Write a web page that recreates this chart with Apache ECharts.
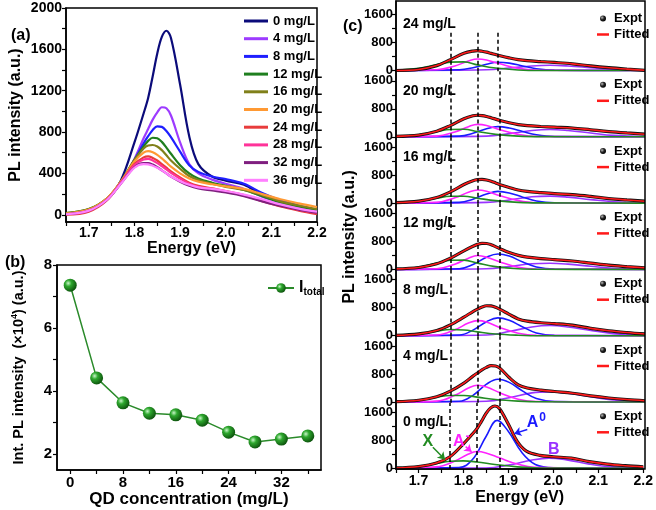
<!DOCTYPE html>
<html>
<head>
<meta charset="UTF-8">
<script src="https://cdn.jsdelivr.net/npm/echarts@6/dist/echarts.min.js"></script>
<style>
  html, body { margin: 0; padding: 0; background: #fff; }
  #chart { width: 656px; height: 510px; }
</style>
</head>
<body>
<div id="chart"></div>
<script>
// ---- panel (a): PL spectra, one array per QD concentration ----
var energy = [1.65, 1.70, 1.74, 1.77, 1.80, 1.82, 1.83, 1.84, 1.85, 1.86, 1.87, 1.88, 1.90, 1.92, 1.94, 1.97, 2.00, 2.04, 2.08, 2.12, 2.16, 2.20];
var concNames = ['0 mg/L', '4 mg/L', '8 mg/L', '12 mg/L', '16 mg/L', '20 mg/L', '24 mg/L', '28 mg/L', '32 mg/L', '36 mg/L'];
var pl0  = [10, 50, 150, 330, 700, 980, 1130, 1340, 1560, 1720, 1780, 1710, 1260, 760, 490, 370, 330, 290, 190, 120, 75, 40];
var pl4  = [10, 50, 150, 310, 540, 740, 830, 920, 990, 1040, 1030, 960, 700, 490, 400, 340, 300, 250, 175, 115, 70, 35];
var pl8  = [10, 50, 150, 310, 530, 690, 760, 820, 855, 850, 810, 750, 610, 480, 415, 370, 345, 300, 210, 140, 90, 50];
var pl12 = [15, 55, 160, 320, 530, 660, 715, 745, 740, 705, 650, 590, 480, 400, 350, 310, 280, 240, 180, 120, 80, 45];
var pl16 = [15, 55, 160, 320, 530, 640, 670, 675, 660, 625, 575, 525, 445, 375, 335, 300, 270, 240, 190, 130, 90, 55];
var pl20 = [12, 50, 160, 320, 515, 600, 615, 605, 580, 545, 505, 465, 400, 350, 320, 295, 275, 250, 200, 150, 110, 75];
var pl24 = [0, 30, 140, 310, 490, 555, 565, 550, 525, 490, 455, 420, 360, 310, 280, 255, 230, 190, 130, 80, 40, 5];
var pl28 = [5, 40, 150, 310, 480, 535, 540, 525, 500, 470, 440, 405, 350, 300, 270, 250, 225, 185, 135, 90, 50, 20];
var pl32 = [5, 40, 145, 300, 460, 500, 500, 485, 460, 430, 400, 370, 320, 280, 255, 235, 215, 180, 130, 85, 50, 20];
var pl36 = [5, 40, 145, 300, 455, 490, 488, 475, 455, 430, 400, 370, 325, 290, 265, 250, 230, 195, 150, 100, 60, 30];

// ---- panel (b): integrated intensity ----
var qdConc   = [0, 4, 8, 12, 16, 20, 24, 28, 32, 36];
var intTotal = [7.36, 4.42, 3.63, 3.30, 3.25, 3.08, 2.70, 2.39, 2.48, 2.58];

// ---- panel (c): fitted peaks (X, A-, A0, B) for each concentration ----
var gridX  = [1.65, 1.70, 1.74, 1.77, 1.80, 1.83, 1.87, 1.92, 1.97, 2.20];
var gridAm = [1.65, 1.74, 1.78, 1.81, 1.83, 1.85, 1.88, 1.92, 1.96, 2.20];
var gridA0 = [1.65, 1.79, 1.82, 1.85, 1.875, 1.90, 1.93, 1.96, 2.00, 2.20];
var gridB  = [1.65, 1.85, 1.90, 1.95, 1.99, 2.03, 2.08, 2.13, 2.20];

var peakX_24 = [5, 60, 170, 240, 245, 160, 70, 15, 0, 0];
var peakX_20 = [5, 55, 150, 210, 215, 150, 70, 20, 5, 0];
var peakX_16 = [5, 50, 140, 195, 195, 140, 70, 20, 5, 0];
var peakX_12 = [5, 60, 180, 260, 265, 180, 80, 20, 5, 0];
var peakX_8  = [5, 50, 130, 175, 165, 110, 50, 15, 0, 0];
var peakX_4  = [5, 50, 140, 185, 185, 140, 70, 25, 5, 0];
var peakX_0  = [5, 50, 140, 200, 212, 180, 110, 40, 10, 0];

var peakAm_24 = [0, 20, 130, 270, 330, 300, 190, 60, 10, 0];
var peakAm_20 = [0, 20, 140, 290, 355, 325, 200, 70, 10, 0];
var peakAm_16 = [0, 20, 150, 310, 375, 340, 210, 70, 10, 0];
var peakAm_12 = [0, 20, 150, 320, 395, 350, 210, 60, 10, 0];
var peakAm_8  = [0, 20, 170, 360, 430, 390, 230, 70, 10, 0];
var peakAm_4  = [0, 25, 190, 400, 480, 430, 260, 80, 15, 0];
var peakAm_0  = [0, 40, 200, 400, 480, 440, 300, 120, 30, 0];

var peakA0_24 = [0, 20, 80, 180, 235, 210, 130, 50, 10, 0];
var peakA0_20 = [0, 20, 100, 230, 290, 250, 150, 60, 10, 0];
var peakA0_16 = [0, 20, 110, 260, 335, 290, 170, 60, 10, 0];
var peakA0_12 = [0, 20, 140, 350, 440, 380, 210, 70, 10, 0];
var peakA0_8  = [0, 20, 160, 400, 510, 440, 250, 80, 10, 0];
var peakA0_4  = [0, 20, 190, 510, 650, 560, 310, 100, 15, 0];
var peakA0_0  = [0, 20, 250, 900, 1370, 1050, 450, 110, 15, 0];

var peakB_24 = [0, 20, 70, 130, 150, 130, 80, 30, 5];
var peakB_20 = [0, 20, 90, 180, 210, 180, 110, 40, 10];
var peakB_16 = [0, 20, 90, 180, 200, 170, 100, 40, 10];
var peakB_12 = [0, 20, 80, 160, 175, 150, 90, 35, 5];
var peakB_8  = [0, 20, 120, 250, 290, 250, 150, 60, 10];
var peakB_4  = [0, 20, 120, 260, 290, 250, 150, 60, 10];
var peakB_0  = [0, 10, 90, 230, 290, 240, 120, 40, 5];

var dashEnergies = [1.77, 1.83, 1.875];
var energyLabels = [1.7, 1.8, 1.9, 2.0, 2.1, 2.2];
var energyTicks  = [1.65, 1.7, 1.75, 1.8, 1.85, 1.9, 1.95, 2.0, 2.05, 2.1, 2.15, 2.2];

var FONT = 'Liberation Sans, Arial, sans-serif';
var plColors = ['#0b0b7a', '#9d3bff', '#1f1fff', '#1f7f1f', '#80801a', '#ff9933', '#e83c3c', '#ff3399', '#7f1f7f', '#ff80ff'];
var spectra = [pl0, pl4, pl8, pl12, pl16, pl20, pl24, pl28, pl32, pl36];

var panelsC = [
  { label: '24 mg/L', expt: pl24, x: peakX_24, am: peakAm_24, a0: peakA0_24, b: peakB_24 },
  { label: '20 mg/L', expt: pl20, x: peakX_20, am: peakAm_20, a0: peakA0_20, b: peakB_20 },
  { label: '16 mg/L', expt: pl16, x: peakX_16, am: peakAm_16, a0: peakA0_16, b: peakB_16 },
  { label: '12 mg/L', expt: pl12, x: peakX_12, am: peakAm_12, a0: peakA0_12, b: peakB_12 },
  { label: '8 mg/L',  expt: pl8,  x: peakX_8,  am: peakAm_8,  a0: peakA0_8,  b: peakB_8 },
  { label: '4 mg/L',  expt: pl4,  x: peakX_4,  am: peakAm_4,  a0: peakA0_4,  b: peakB_4 },
  { label: '0 mg/L',  expt: pl0,  x: peakX_0,  am: peakAm_0,  a0: peakA0_0,  b: peakB_0 }
];

function pairs(xs, ys) {
  return xs.map(function (x, i) { return [x, ys[i]]; });
}
function txt(size, extra) {
  var o = { color: '#000', fontWeight: 'bold', fontFamily: FONT, fontSize: size };
  for (var k in extra) o[k] = extra[k];
  return o;
}
function plain(v) { return String(v); }
function oneDec(v) { return v.toFixed(1); }

var grids = [], xAxes = [], yAxes = [], series = [], legends = [], titles = [];

// panel (a)
grids.push({ left: 66, top: 8, width: 251, height: 214, show: true, borderColor: '#000', borderWidth: 1.5 });
xAxes.push({
  type: 'value', gridIndex: 0, min: 1.65, max: 2.2,
  axisLine: { onZero: false, lineStyle: { color: '#000', width: 1.5 } },
  axisTick: { length: 4, customValues: energyTicks, lineStyle: { color: '#000', width: 1.2 } },
  axisLabel: Object.assign(txt(14), { customValues: energyLabels, margin: 4, formatter: oneDec }),
  splitLine: { show: false },
  name: 'Energy (eV)', nameLocation: 'middle', nameGap: 17, nameTextStyle: txt(16)
});
yAxes.push({
  type: 'value', gridIndex: 0, min: -70, max: 2000,
  axisLine: { onZero: false, lineStyle: { color: '#000', width: 1.5 } },
  axisTick: { length: 4, customValues: [0, 200, 400, 600, 800, 1000, 1200, 1400, 1600, 1800, 2000], lineStyle: { color: '#000', width: 1.2 } },
  axisLabel: Object.assign(txt(14), { customValues: [0, 400, 800, 1200, 1600, 2000], margin: 4, formatter: plain }),
  splitLine: { show: false },
  name: 'PL intensity (a.u.)', nameLocation: 'middle', nameGap: 42, nameTextStyle: txt(16)
});
spectra.forEach(function (arr, i) {
  series.push({
    name: concNames[i], type: 'line', xAxisIndex: 0, yAxisIndex: 0,
    data: pairs(energy, arr), smooth: 0.35, showSymbol: false,
    lineStyle: { width: 2.2, color: plColors[i] }, itemStyle: { color: plColors[i] }
  });
});
legends.push({
  data: concNames, left: 239, top: 9, orient: 'vertical',
  itemWidth: 24, itemHeight: 3, itemGap: 3.7, icon: 'path://M0,0H24V3H0Z',
  textStyle: txt(13, { lineHeight: 14 })
});

// panel (b)
grids.push({ left: 57, top: 265, width: 264, height: 205, show: true, borderColor: '#000', borderWidth: 1.5 });
xAxes.push({
  type: 'value', gridIndex: 1, min: -2, max: 38,
  axisLine: { onZero: false, lineStyle: { color: '#000', width: 1.5 } },
  axisTick: { length: 4, customValues: [0, 4, 8, 12, 16, 20, 24, 28, 32, 36], lineStyle: { color: '#000', width: 1.2 } },
  axisLabel: Object.assign(txt(15), { customValues: [0, 8, 16, 24, 32], margin: 5, formatter: plain }),
  splitLine: { show: false },
  name: 'QD concentration (mg/L)', nameLocation: 'middle', nameGap: 20, nameTextStyle: txt(17)
});
yAxes.push({
  type: 'value', gridIndex: 1, min: 1.5, max: 8,
  axisLine: { onZero: false, lineStyle: { color: '#000', width: 1.5 } },
  axisTick: { length: 4, customValues: [2, 3, 4, 5, 6, 7, 8], lineStyle: { color: '#000', width: 1.2 } },
  axisLabel: Object.assign(txt(15), { customValues: [2, 4, 6, 8], margin: 5, formatter: plain }),
  splitLine: { show: false },
  name: 'Int. PL intensity  (\u00d710{sup|4}) (a.u.)', nameLocation: 'middle', nameGap: 30,
  nameTextStyle: txt(14.5, { rich: { sup: txt(9, { padding: [0, 0, 8, 0] }) } })
});
var sphereGreen = {
  type: 'radial', x: 0.35, y: 0.35, r: 0.7,
  colorStops: [{ offset: 0, color: '#c8f5c8' }, { offset: 0.35, color: '#2ea82e' }, { offset: 1, color: '#0b4f0b' }]
};
series.push({
  name: 'Itotal', type: 'line', xAxisIndex: 1, yAxisIndex: 1,
  data: pairs(qdConc, intTotal), symbol: 'circle', symbolSize: 13,
  lineStyle: { color: '#2a8a2a', width: 1.5 }, itemStyle: { color: sphereGreen }
});
legends.push({
  data: ['Itotal'], left: 262, top: 275, itemWidth: 26, itemHeight: 12,
  formatter: function () { return 'I{sub|total}'; },
  textStyle: txt(16, { rich: { sub: txt(10, { padding: [9, 0, 0, 0] }) } })
});

// panel (c): seven stacked sub-panels
var cLeft = 396, cWidth = 249, cBottom = 469, subH = 66.3, unitsPerSub = 1894, cMin = -20;
var sphereBlack = {
  type: 'radial', x: 0.35, y: 0.35, r: 0.7,
  colorStops: [{ offset: 0, color: '#bbb' }, { offset: 0.5, color: '#222' }, { offset: 1, color: '#000' }]
};
panelsC.forEach(function (p, k) {
  var gi = 2 + k;
  var bottom = cBottom - (panelsC.length - 1 - k) * subH;
  var top = k === 0 ? 1 : bottom - subH;
  var h = bottom - top;
  var yMax = h * unitsPerSub / subH + cMin;
  var zeroPx = bottom - (-cMin) * subH / unitsPerSub;
  var isLast = k === panelsC.length - 1;
  grids.push({ left: cLeft, top: top, width: cWidth, height: h });
  xAxes.push({
    type: 'value', gridIndex: gi, min: 1.65, max: 2.2,
    axisLine: { show: isLast, onZero: false, lineStyle: { color: '#000', width: 1.5 } },
    axisTick: { show: isLast, length: 4, customValues: energyTicks, lineStyle: { color: '#000', width: 1.2 } },
    axisLabel: Object.assign(txt(14), { show: isLast, customValues: energyLabels, margin: 5, formatter: oneDec }),
    splitLine: { show: false },
    name: isLast ? 'Energy (eV)' : '', nameLocation: 'middle', nameGap: 21, nameTextStyle: txt(16)
  });
  yAxes.push({
    type: 'value', gridIndex: gi, min: cMin, max: yMax,
    axisLine: { onZero: false, lineStyle: { color: '#000', width: 1.5 } },
    axisTick: { length: 4, customValues: [0, 400, 800, 1200, 1600], lineStyle: { color: '#000', width: 1.2 } },
    axisLabel: Object.assign(txt(13), { customValues: [0, 800, 1600], margin: 3, formatter: plain }),
    splitLine: { show: false },
    name: k === 3 ? 'PL intensity (a.u.)' : '', nameLocation: 'middle', nameGap: 38, nameTextStyle: txt(16)
  });
  var comps = [
    { name: 'B', xs: gridB, ys: p.b, color: '#9933ff' },
    { name: 'A0', xs: gridA0, ys: p.a0, color: '#1a1aff' },
    { name: 'A-', xs: gridAm, ys: p.am, color: '#ff22ff' },
    { name: 'X', xs: gridX, ys: p.x, color: '#228b22' }
  ];
  comps.forEach(function (c) {
    series.push({
      name: c.name, type: 'line', xAxisIndex: gi, yAxisIndex: gi,
      data: pairs(c.xs, c.ys), smooth: 0.4, showSymbol: false,
      lineStyle: { width: 1.6, color: c.color }, itemStyle: { color: c.color }
    });
  });
  var dashData = dashEnergies.map(function (e) {
    if (k === 0) return [{ coord: [e, 1080] }, { coord: [e, cMin] }];
    return { xAxis: e };
  });
  series.push({
    name: 'Expt', type: 'line', xAxisIndex: gi, yAxisIndex: gi,
    data: pairs(energy, p.expt), smooth: 0.35, showSymbol: false,
    lineStyle: { width: 3.2, color: '#111' }, itemStyle: { color: '#000' },
    markLine: {
      silent: true, symbol: ['none', 'none'], label: { show: false },
      lineStyle: { type: [4, 3], color: '#000', width: 1.5 },
      data: dashData
    }
  });
  series.push({
    name: 'Fitted', type: 'line', xAxisIndex: gi, yAxisIndex: gi,
    data: pairs(energy, p.expt), smooth: 0.35, showSymbol: false,
    lineStyle: { width: 1.6, color: '#ff1a1a' }, itemStyle: { color: '#ff1a1a' }
  });
  legends.push({
    data: [{ name: 'Expt', icon: 'circle', itemStyle: { color: sphereBlack } },
           { name: 'Fitted', icon: 'path://M0,0H12V2.5H0Z' }],
    left: 592, top: zeroPx - 64, orient: 'vertical',
    itemWidth: 12, itemHeight: 6, itemGap: 2,
    textStyle: txt(13, { lineHeight: 14 })
  });
  titles.push({ text: p.label, left: 398, top: zeroPx - 58, textStyle: txt(14) });
});

// annotations in the 0 mg/L sub-panel
var lastGrid = 2 + panelsC.length - 1;
function note(text, color, at, from, to) {
  var s = {
    type: 'line', xAxisIndex: lastGrid, yAxisIndex: lastGrid, data: [], silent: true, z: 5,
    markPoint: {
      symbol: 'rect', symbolSize: 1, itemStyle: { color: 'rgba(0,0,0,0)' },
      data: [{ coord: at, label: { show: true, position: 'inside', formatter: text,
        color: color, fontWeight: 'bold', fontFamily: FONT, fontSize: 16,
        rich: { sup: { color: color, fontWeight: 'bold', fontFamily: FONT, fontSize: 12, padding: [0, 0, 10, 1] } } } }]
    }
  };
  if (from) {
    s.markLine = {
      symbol: ['none', 'arrow'], symbolSize: 7, label: { show: false },
      lineStyle: { type: 'solid', color: color, width: 1.5 },
      data: [[{ coord: from }, { coord: to }]]
    };
  }
  series.push(s);
}
note('X', '#228b22', [1.721, 751], [1.732, 600], [1.759, 250]);
note('A{sup|-}', '#ff22ff', [1.795, 760], [1.805, 620], [1.818, 470]);
note('A{sup|0}', '#1a1aff', [1.962, 1294], [1.942, 1110], [1.913, 990]);
note('B', '#9933ff', [2.001, 523]);

titles.push({ text: '(a)', left: 6, top: 23, textStyle: txt(16) });
titles.push({ text: '(b)', left: 0, top: 250, textStyle: txt(16) });
titles.push({ text: '(c)', left: 338, top: 14, textStyle: txt(16) });

var chart = echarts.init(document.getElementById('chart'));
chart.setOption({
  animation: false,
  backgroundColor: '#fff',
  textStyle: { fontFamily: FONT },
  title: titles,
  grid: grids,
  xAxis: xAxes,
  yAxis: yAxes,
  legend: legends,
  series: series,
  graphic: [{
    type: 'rect', silent: true, z: 100,
    shape: { x: cLeft, y: 1, width: cWidth, height: cBottom - 1 },
    style: { fill: 'none', stroke: '#000', lineWidth: 1.5 }
  }]
});
</script>
</body>
</html>
